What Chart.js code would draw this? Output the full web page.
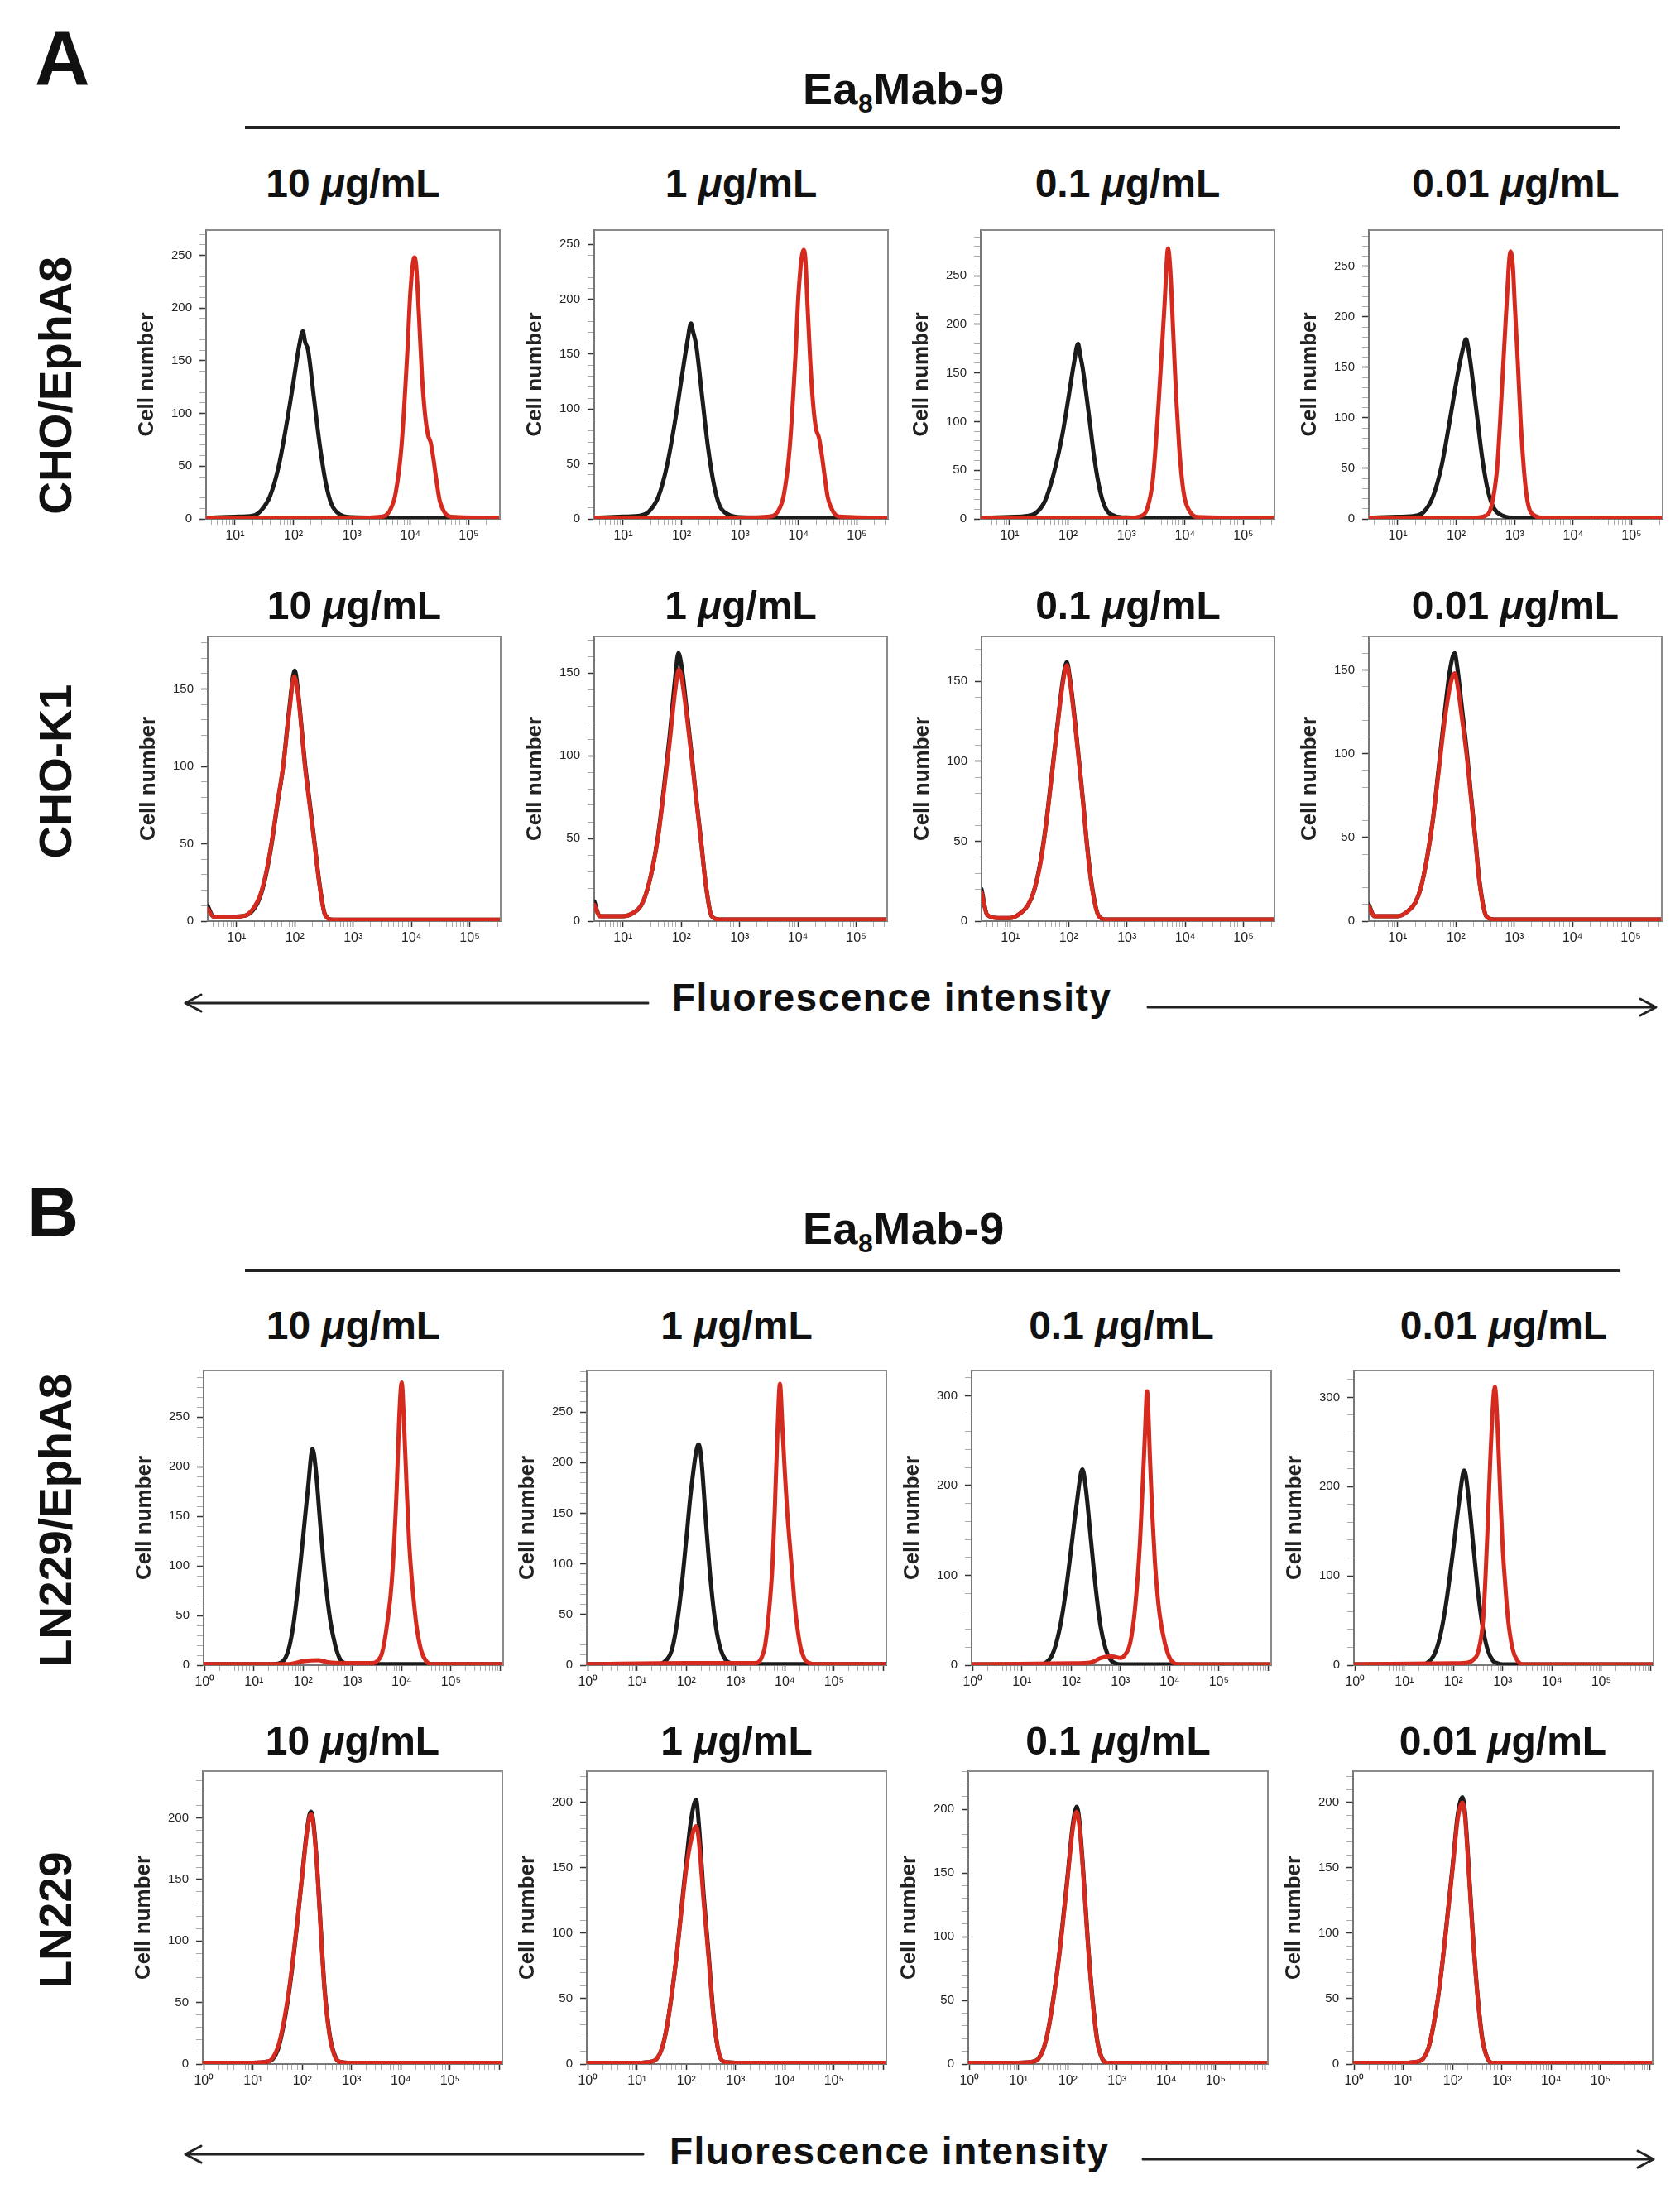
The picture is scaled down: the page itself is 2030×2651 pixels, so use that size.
<!DOCTYPE html>
<html>
<head>
<meta charset="utf-8">
<title>Ea8Mab-9 flow cytometry</title>
<script src="https://cdn.jsdelivr.net/npm/chart.js@4.4.0/dist/chart.umd.min.js"></script>
<style>
  body { margin: 0; background: #fff; }
  #page { position: relative; width: 2030px; height: 2651px; overflow: hidden;
          font-family: "Liberation Sans", Arial, Helvetica, sans-serif; color: #111; }
  .abs { position: absolute; white-space: nowrap; line-height: 1; font-weight: bold; }
  .head { font-size: 54px; letter-spacing: 0.5px; }
  .head sub { font-size: 32px; vertical-align: -10px; line-height: 0; }
  .conc { font-size: 48px; width: 420px; text-align: center; }
  .rowlab { font-size: 55px; transform: translate(-50%, -50%) rotate(-90deg); }
  .fluo { font-size: 46px; letter-spacing: 1.5px; }
  .rule { height: 4px; background: #222; }
  .panel { position: absolute; }
</style>
</head>
<body>
<div id="page">
  <svg class="abs" style="left:0;top:0" width="2030" height="2651">
    <g stroke="#222" stroke-width="3" fill="none" stroke-linecap="round" stroke-linejoin="round">
      <line x1="225" y1="1212" x2="783" y2="1212"/>
      <polyline points="243,1202 224,1212 243,1222"/>
      <line x1="1387" y1="1217" x2="2000" y2="1217"/>
      <polyline points="1982,1207 2001,1217 1982,1227"/>
      <line x1="225" y1="2603" x2="777" y2="2603"/>
      <polyline points="243,2593 224,2603 243,2613"/>
      <line x1="1381" y1="2609" x2="1997" y2="2609"/>
      <polyline points="1979,2599 1998,2609 1979,2619"/>
    </g>
  </svg>
  <div class="abs" style="left:42px;top:24px;font-size:92px">A</div>
  <div class="abs" style="left:33px;top:1421px;font-size:86px">B</div>
  <div class="abs head" style="left:970px;top:80px">Ea<sub>8</sub>Mab-9</div>
  <div class="abs head" style="left:970px;top:1457px">Ea<sub>8</sub>Mab-9</div>
  <div class="abs rule" style="left:296px;top:152px;width:1661px"></div>
  <div class="abs rule" style="left:296px;top:1533px;width:1661px"></div>
  <div class="abs fluo" style="left:812px;top:1182px">Fluorescence intensity</div>
  <div class="abs fluo" style="left:809px;top:2576px">Fluorescence intensity</div>
</div>
<script>
// ---- data (x = fluorescence intensity, y = cell number) ----
// CHO/EphA8
const choA8_10_ctrl = [[3.2,1],[10,2],[20,3],[28,8],[40,22],[56,50],[79,95],[100,130],[126,165],[145,178],[158,168],[178,160],[224,115],[282,70],[355,35],[447,14],[631,4],[1000,1.5],[10000,1],[340000,1]];
const choA8_10_mab = [[3.2,1],[1000,1],[3162,2],[4467,8],[5623,25],[7079,70],[8913,160],[10000,215],[11750,248],[12589,240],[14125,190],[15849,135],[17783,100],[19953,80],[22387,72],[25119,55],[28184,35],[31623,18],[39811,5],[50119,2],[340000,1]];
const choA8_1_ctrl = [[3.2,1],[10,2],[20,3],[28,7],[40,20],[56,48],[79,92],[100,128],[126,162],[145,178],[158,170],[178,158],[224,112],[282,66],[355,32],[447,12],[631,4],[1000,1.5],[10000,1],[340000,1]];
const choA8_1_mab = [[3.2,1],[1000,1],[3162,2],[4467,7],[5623,22],[7079,65],[8913,150],[10000,205],[12300,245],[13183,235],[14125,200],[15849,145],[17783,105],[19953,82],[22387,74],[25119,58],[28184,38],[31623,20],[39811,6],[50119,2],[340000,1]];
const choA8_01_ctrl = [[3.2,1],[10,2],[20,3],[28,6],[40,18],[56,45],[79,85],[100,122],[126,160],[148,180],[162,168],[178,155],[224,110],[282,62],[355,28],[447,10],[631,3],[1000,1.5],[10000,1],[340000,1]];
const choA8_01_mab = [[3.2,1],[1000,1],[1778,3],[2239,10],[2818,40],[3548,120],[4467,220],[5130,278],[5623,255],[6310,190],[7079,125],[7943,75],[8913,40],[10000,20],[12589,6],[15849,2],[340000,1]];
const choA8_001_ctrl = [[3.2,1],[10,2],[20,3],[28,7],[40,22],[56,52],[79,100],[100,135],[126,165],[148,178],[162,168],[178,152],[224,105],[282,58],[355,26],[447,10],[631,3],[1000,1],[10000,1],[340000,1]];
const choA8_001_mab = [[3.2,1],[200,1],[316,3],[398,12],[501,50],[562,95],[708,200],[850,265],[933,250],[1000,215],[1122,160],[1259,100],[1413,55],[1585,25],[1778,10],[2239,3],[3162,1],[340000,1]];
// CHO-K1
const choK1_10_ctrl = [[3.2,10],[4,3],[10,3],[15,4],[20,8],[25,15],[32,30],[40,50],[50,75],[63,100],[79,135],[100,162],[112,150],[151,100],[178,78],[219,50],[263,25],[331,4],[447,1],[1000,1],[340000,1]];
const choK1_10_mab = [[3.2,8],[4,3],[10,3],[15,4],[20,9],[25,16],[32,31],[40,51],[50,76],[63,100],[79,133],[98,158],[112,148],[151,98],[178,76],[219,49],[263,24],[331,4],[447,1],[1000,1],[340000,1]];
const choK1_1_ctrl = [[3.2,12],[4,3],[10,3],[15,5],[20,9],[25,17],[32,32],[40,52],[50,80],[63,112],[79,148],[89,162],[100,155],[126,125],[151,100],[178,76],[219,48],[263,22],[331,3],[447,1],[340000,1]];
const choK1_1_mab = [[3.2,10],[4,3],[10,3],[15,5],[20,9],[25,17],[32,32],[40,51],[50,78],[63,108],[79,140],[91,152],[100,148],[126,122],[151,98],[178,75],[219,47],[263,22],[331,3],[447,1],[340000,1]];
const choK1_01_ctrl = [[3.2,20],[4,4],[6,2],[10,2],[15,5],[20,10],[25,18],[32,35],[40,58],[50,88],[63,120],[79,150],[93,162],[105,152],[126,128],[151,100],[178,74],[204,50],[251,22],[331,3],[447,1],[340000,1]];
const choK1_01_mab = [[3.2,18],[4,4],[6,2],[10,2],[15,5],[20,10],[25,18],[32,34],[40,57],[50,87],[63,119],[79,148],[93,160],[105,150],[126,126],[151,99],[178,73],[204,49],[251,21],[331,3],[447,1],[340000,1]];
const choK1_001_ctrl = [[3.2,10],[4,3],[10,3],[15,6],[20,11],[25,20],[32,38],[40,60],[50,90],[63,122],[79,150],[95,160],[105,152],[126,128],[155,100],[178,78],[214,50],[251,25],[331,3],[447,1],[340000,1]];
const choK1_001_mab = [[3.2,9],[4,3],[10,3],[15,6],[20,11],[25,20],[32,38],[40,60],[50,88],[63,118],[79,140],[95,148],[105,142],[126,122],[155,97],[178,76],[214,49],[251,24],[331,3],[447,1],[340000,1]];
// LN229/EphA8
const lnA8_10_ctrl = [[0.95,1],[10,1],[25,1],[37,3],[50,15],[63,40],[79,80],[100,130],[126,180],[155,218],[178,200],[224,140],[282,85],[355,45],[447,20],[562,6],[708,2],[1000,1],[1150000,1]];
const lnA8_10_mab = [[0.95,1],[50,1],[100,4],[200,5],[316,3],[1000,2],[2512,2],[3162,4],[3981,12],[5012,40],[6310,85],[7943,180],[8913,250],[10000,285],[11220,240],[12589,180],[14125,125],[15849,90],[19953,40],[25119,14],[31623,4],[39811,1],[1150000,1]];
const lnA8_1_ctrl = [[0.95,1],[10,1],[25,1],[35,3],[50,14],[63,38],[79,75],[100,125],[126,175],[178,218],[200,205],[251,140],[316,80],[398,38],[501,15],[631,5],[794,2],[1000,1],[1150000,1]];
const lnA8_1_mab = [[0.95,1],[100,2],[1000,2],[2512,2],[3162,5],[3981,20],[5012,65],[5623,100],[6310,160],[7079,230],[7943,278],[8913,235],[10000,190],[11220,150],[12589,120],[14125,90],[15849,60],[19953,22],[25119,6],[31623,2],[39811,1],[1150000,1]];
const lnA8_01_ctrl = [[0.95,1],[10,1],[25,1],[31,3],[40,10],[50,25],[63,50],[79,85],[100,130],[126,175],[170,218],[200,195],[251,140],[316,85],[398,42],[501,18],[631,6],[794,2],[1000,1],[1150000,1]];
const lnA8_01_mab = [[0.95,1],[100,2],[251,3],[398,8],[631,10],[794,9],[1000,8],[1259,12],[1585,25],[1995,65],[2512,140],[3162,260],[3467,305],[3981,230],[4467,165],[5012,115],[5623,80],[6310,55],[7943,25],[10000,8],[12589,2],[15849,1],[1150000,1]];
const lnA8_001_ctrl = [[0.95,1],[10,1],[25,1],[30,3],[40,11],[50,26],[63,52],[79,88],[100,132],[126,178],[166,218],[200,190],[251,135],[316,80],[398,40],[501,16],[631,5],[794,2],[1000,1],[1150000,1]];
const lnA8_001_mab = [[0.95,1],[100,2],[200,3],[251,6],[316,15],[398,50],[447,100],[501,165],[562,235],[692,312],[794,260],[891,190],[1000,130],[1122,90],[1259,55],[1585,18],[1995,5],[2512,1],[1150000,1]];
// LN229
const ln_10_ctrl = [[0.95,1],[10,1],[20,2],[25,4],[32,12],[40,28],[50,50],[63,80],[79,115],[100,155],[126,192],[148,205],[166,198],[200,160],[245,100],[282,62],[355,25],[447,8],[562,2],[1000,1],[1150000,1]];
const ln_10_mab = [[0.95,1],[10,1],[20,2],[25,5],[32,14],[40,30],[50,52],[63,82],[79,116],[100,154],[126,190],[148,203],[166,196],[200,158],[245,98],[282,60],[355,24],[447,7],[562,2],[1000,1],[1150000,1]];
const ln_1_ctrl = [[0.95,1],[10,1],[20,2],[25,4],[32,12],[40,28],[50,52],[63,82],[79,118],[100,155],[126,188],[158,202],[178,185],[224,130],[282,85],[355,38],[447,10],[562,2],[1000,1],[1150000,1]];
const ln_1_mab = [[0.95,1],[10,1],[20,2],[25,4],[32,12],[40,28],[50,52],[63,82],[79,116],[100,150],[126,172],[158,182],[178,172],[224,125],[282,82],[355,36],[447,10],[562,2],[1000,1],[1150000,1]];
const ln_01_ctrl = [[0.95,1],[10,1],[20,2],[25,4],[32,12],[40,27],[50,50],[63,78],[79,112],[100,150],[126,188],[151,202],[170,192],[200,158],[251,100],[316,52],[398,18],[501,4],[631,1],[1150000,1]];
const ln_01_mab = [[0.95,1],[10,1],[20,2],[25,4],[32,12],[40,27],[50,49],[63,77],[79,110],[100,148],[126,185],[151,198],[170,188],[200,155],[251,98],[316,50],[398,17],[501,4],[631,1],[1150000,1]];
const ln_001_ctrl = [[0.95,1],[10,1],[20,2],[25,4],[32,12],[40,28],[50,50],[63,80],[79,115],[100,152],[126,190],[158,204],[178,192],[200,165],[251,105],[316,55],[398,20],[501,5],[631,1],[1150000,1]];
const ln_001_mab = [[0.95,1],[10,1],[20,2],[25,4],[32,12],[40,28],[50,50],[63,80],[79,114],[100,150],[126,187],[158,200],[178,189],[200,162],[251,103],[316,54],[398,19],[501,5],[631,1],[1150000,1]];

const concentrations = ['10', '1', '0.1', '0.01'];
const rowLabels = ['CHO/EphA8', 'CHO-K1', 'LN229/EphA8', 'LN229'];
const yMaxRows = [[274, 263, 297, 286], [184, 172, 178, 170], [297, 291, 328, 330], [238, 224, 230, 224]];
const yStepRows = [[50, 50, 50, 50], [50, 50, 50, 50], [50, 50, 100, 100], [50, 50, 50, 50]];
const xRangeRows = [[3.2, 340000], [3.2, 340000], [0.95, 1150000], [0.95, 1150000]];
const xLabelDecades = [[1, 2, 3, 4, 5], [1, 2, 3, 4, 5], [0, 1, 2, 3, 4, 5], [0, 1, 2, 3, 4, 5]];
const controlCurves = [
  [choA8_10_ctrl, choA8_1_ctrl, choA8_01_ctrl, choA8_001_ctrl],
  [choK1_10_ctrl, choK1_1_ctrl, choK1_01_ctrl, choK1_001_ctrl],
  [lnA8_10_ctrl, lnA8_1_ctrl, lnA8_01_ctrl, lnA8_001_ctrl],
  [ln_10_ctrl, ln_1_ctrl, ln_01_ctrl, ln_001_ctrl]
];
const mabCurves = [
  [choA8_10_mab, choA8_1_mab, choA8_01_mab, choA8_001_mab],
  [choK1_10_mab, choK1_1_mab, choK1_01_mab, choK1_001_mab],
  [lnA8_10_mab, lnA8_1_mab, lnA8_01_mab, lnA8_001_mab],
  [ln_10_mab, ln_1_mab, ln_01_mab, ln_001_mab]
];

// ---- layout ----
const rowBoxes = [
  {top: 272, h: 355, w: 355, lefts: [249, 718, 1185, 1654]},
  {top: 763, h: 350, w: 354, lefts: [251, 718, 1186, 1654]},
  {top: 1650, h: 362, w: 362, lefts: [246, 709, 1174, 1636]},
  {top: 2134, h: 360, w: 362, lefts: [245, 709, 1170, 1635]}
];
const titleCapTops = [204, 714, 1584, 2086];
const rowLabelY = [466, 932, 1837, 2320];
const PAD_L = 100, PAD_T = 12, PAD_R = 8, PAD_B = 46;
const RED = '#d62a1e', BLACK = '#1b1b1b';
const SUP = ['\u2070', '\u00b9', '\u00b2', '\u00b3', '\u2074', '\u2075', '\u2076'];

Chart.defaults.font.family = '"Liberation Sans", Arial, Helvetica, sans-serif';
Chart.defaults.color = '#333';

const page = document.getElementById('page');

function isDecade(v) {
  const l = Math.log10(v);
  return Math.abs(l - Math.round(l)) < 1e-9;
}

function logTicks(min, max) {
  const out = [];
  for (let d = Math.floor(Math.log10(min)); d <= Math.ceil(Math.log10(max)); d++) {
    for (let k = 1; k <= 9; k++) {
      const v = k * Math.pow(10, d);
      if (v >= min && v <= max) out.push({value: v});
    }
  }
  return out;
}

// top and right edges of the plot frame
const frame = {
  id: 'frame',
  afterDatasetsDraw(chart) {
    const a = chart.chartArea, c = chart.ctx;
    c.save();
    c.strokeStyle = '#8a8a8a';
    c.lineWidth = 2;
    c.beginPath();
    c.moveTo(a.left, a.top);
    c.lineTo(a.right, a.top);
    c.lineTo(a.right, a.bottom);
    c.stroke();
    c.restore();
  }
};

function addText(cls, html, css) {
  const d = document.createElement('div');
  d.className = 'abs ' + cls;
  d.innerHTML = html;
  Object.assign(d.style, css);
  page.appendChild(d);
  return d;
}

function drawPanel(r, c) {
  const box = rowBoxes[r];
  const left = box.lefts[c];
  const [xmin, xmax] = xRangeRows[r];
  const ymax = yMaxRows[r][c], ystep = yStepRows[r][c], yminor = ystep / 5;
  const decades = xLabelDecades[r];

  const wrap = document.createElement('div');
  wrap.className = 'panel';
  wrap.style.left = (left - PAD_L) + 'px';
  wrap.style.top = (box.top - PAD_T) + 'px';
  wrap.style.width = (box.w + PAD_L + PAD_R) + 'px';
  wrap.style.height = (box.h + PAD_T + PAD_B) + 'px';
  const cv = document.createElement('canvas');
  wrap.appendChild(cv);
  page.appendChild(wrap);

  new Chart(cv, {
    type: 'line',
    data: {
      datasets: [
        {label: 'Ea8Mab-9', data: mabCurves[r][c], borderColor: RED},
        {label: 'Control', data: controlCurves[r][c], borderColor: BLACK}
      ]
    },
    options: {
      responsive: true,
      maintainAspectRatio: false,
      animation: false,
      events: [],
      layout: {padding: {top: PAD_T, right: PAD_R, left: 0, bottom: 0}},
      plugins: {legend: {display: false}, tooltip: {enabled: false}},
      elements: {
        point: {radius: 0},
        line: {borderWidth: 5, cubicInterpolationMode: 'monotone', borderJoinStyle: 'round', borderCapStyle: 'round', fill: false}
      },
      scales: {
        x: {
          type: 'logarithmic',
          min: xmin,
          max: xmax,
          afterBuildTicks: s => { s.ticks = logTicks(xmin, xmax); },
          afterFit: s => { s.height = PAD_B; },
          grid: {
            drawOnChartArea: false,
            tickLength: 7,
            tickColor: ctx => isDecade(ctx.tick.value) ? '#333' : '#aaa',
            tickWidth: ctx => isDecade(ctx.tick.value) ? 1.5 : 1
          },
          border: {color: '#777', width: 2},
          ticks: {
            autoSkip: false,
            maxRotation: 0,
            padding: 4,
            color: '#222',
            font: {size: 16},
            callback: v => {
              const e = Math.round(Math.log10(v));
              return isDecade(v) && decades.includes(e) ? '10' + SUP[e] : '';
            }
          }
        },
        y: {
          type: 'linear',
          min: 0,
          max: ymax,
          afterBuildTicks: s => {
            const t = [];
            for (let v = 0; v <= ymax; v += yminor) t.push({value: v});
            s.ticks = t;
          },
          afterFit: s => { s.width = PAD_L; },
          grid: {
            drawOnChartArea: false,
            tickLength: 8,
            tickColor: ctx => ctx.tick.value % ystep === 0 ? '#333' : '#aaa',
            tickWidth: ctx => ctx.tick.value % ystep === 0 ? 1.5 : 1
          },
          border: {color: '#777', width: 2},
          title: {
            display: true,
            text: 'Cell number',
            color: '#222',
            font: {size: 26, weight: 'bold'},
            padding: {top: 13, bottom: 0}
          },
          ticks: {
            autoSkip: false,
            padding: 9,
            color: '#222',
            font: {size: 15},
            callback: v => (v % ystep === 0 ? String(v) : '')
          }
        }
      }
    },
    plugins: [frame]
  });

  addText('conc', concentrations[c] + ' <i>\u03bc</i>g/mL', {
    left: (left + box.w / 2 - 210) + 'px',
    top: (titleCapTops[r] - 6) + 'px'
  });
}

for (let r = 0; r < 4; r++) {
  addText('rowlab', rowLabels[r], {left: '67px', top: rowLabelY[r] + 'px'});
  for (let c = 0; c < 4; c++) drawPanel(r, c);
}
</script>
</body>
</html>
